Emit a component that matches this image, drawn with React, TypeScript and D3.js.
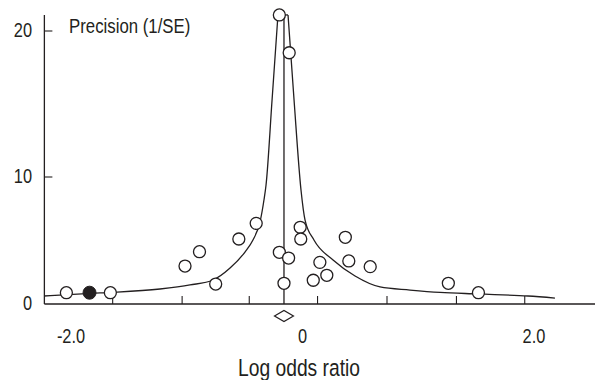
import React, { useRef, useEffect } from "react";
import { select, scaleLinear, line, curveMonotoneX } from "d3";

// studies (log odds ratio, precision 1/SE)
const studyLor = [
  -2.04, -1.66, -1.015, -0.89, -0.75, -0.55, -0.4, -0.2, -0.115, -0.2, -0.12,
  -0.16, -0.02, -0.015, 0.093, 0.15, 0.21, 0.37, 0.4, 0.585, 1.26, 1.52,
];
const studyPrec = [
  0.89, 0.89, 2.99, 4.12, 1.57, 5.12, 6.35, 21.1, 18.51, 4.07, 3.62, 1.63, 6.04,
  5.12, 1.87, 3.28, 2.26, 5.25, 3.39, 2.94, 1.63, 0.89,
];

// the highlighted (filled) study
const filledLor = [-1.84];
const filledPrec = [0.89];

// pooled estimate and its interval
const pooled = -0.16;
const pooledLow = -0.242;
const pooledHigh = -0.078;

// funnel limits
const leftLor = [
  -2.233, -1.749, -1.231, -0.972, -0.773, -0.626, -0.497, -0.428, -0.367,
  -0.333, -0.315, -0.263, -0.212,
];
const leftPrec = [
  0.63, 0.87, 1.18, 1.5, 1.89, 2.83, 4.09, 5.04, 6.46, 8.19, 9.37, 15.27, 21.1,
];
const rightLor = [
  -0.125, -0.073, -0.013, 0.022, 0.099, 0.264, 0.454, 0.67, 0.929, 1.188,
  1.516, 1.948, 2.181,
];
const rightPrec = [
  21.1, 15.27, 8.98, 6.61, 5.04, 3.46, 2.2, 1.34, 1.1, 0.91, 0.79, 0.63, 0.47,
];

// axes
const xTickMarks = [-1.64, -1.04, -0.46, 0.13, 0.73, 1.33, 1.92];
const xTickLabels = [-2, 0, 2];
const xTickText = ["-2.0", "0", "2.0"];
const yTicks = [0, 10, 20];
const yTickMarks = [10, 20];
const xExtent = [-2.23, 2.53];
const yTop = 21.1;

// no narrow font installed: squeeze Liberation Sans like Arial Narrow
const font = "'Liberation Sans', Arial, sans-serif";
const squeeze = 0.82;
const ink = "#231f20";

export default function App() {
  const svgRef = useRef<SVGSVGElement>(null);

  useEffect(() => {
    const svg = select(svgRef.current);
    svg.selectAll("*").remove();

    const x = scaleLinear().domain([-2, 2]).range([71, 534]);
    // the printed axis is not evenly spaced, so use a two piece scale
    const y = scaleLinear().domain([0, 10, 20]).range([304, 177, 31]);

    const g = svg.append("g");

    const label = (tx, ty, txt, size, anchor) =>
      g
        .append("text")
        .attr("transform", `translate(${tx},${ty}) scale(${squeeze},1)`)
        .attr("text-anchor", anchor)
        .attr("font-family", font)
        .attr("font-size", size)
        .attr("fill", ink)
        .text(txt);

    // axis lines
    g.append("line")
      .attr("x1", x(xExtent[0]))
      .attr("x2", x(xExtent[1]))
      .attr("y1", y(0))
      .attr("y2", y(0))
      .attr("stroke", ink)
      .attr("stroke-width", 1.3);
    g.append("line")
      .attr("x1", x(xExtent[0]))
      .attr("x2", x(xExtent[0]))
      .attr("y1", y(0))
      .attr("y2", y(yTop))
      .attr("stroke", ink)
      .attr("stroke-width", 1.3);

    // x tick marks (point up)
    g.selectAll(".xtick")
      .data(xTickMarks)
      .join("line")
      .attr("class", "xtick")
      .attr("x1", (d) => x(d))
      .attr("x2", (d) => x(d))
      .attr("y1", y(0))
      .attr("y2", y(0) - 8)
      .attr("stroke", ink)
      .attr("stroke-width", 1.1);

    xTickLabels.forEach((v, i) => label(x(v), 343, xTickText[i], 20, "middle"));

    // y ticks (point right)
    g.selectAll(".ytick")
      .data(yTickMarks)
      .join("line")
      .attr("class", "ytick")
      .attr("x1", x(xExtent[0]))
      .attr("x2", x(xExtent[0]) + 8)
      .attr("y1", (d) => y(d))
      .attr("y2", (d) => y(d))
      .attr("stroke", ink)
      .attr("stroke-width", 1.1);

    yTicks.forEach((v) => label(32, y(v) + 6, String(v), 20, "end"));

    label(69, 33, "Precision (1/SE)", 20.5, "start");
    label(299, 376, "Log odds ratio", 23.5, "middle");

    // funnel
    const funnel = line<number[]>()
      .x((d) => x(d[0]))
      .y((d) => y(d[1]))
      .curve(curveMonotoneX);
    const left = leftLor.map((v, i) => [v, leftPrec[i]]);
    const right = rightLor.map((v, i) => [v, rightPrec[i]]);
    [left, right].forEach((pts) => {
      g.append("path")
        .attr("d", funnel(pts))
        .attr("fill", "none")
        .attr("stroke", ink)
        .attr("stroke-width", 1.3);
    });
    g.append("line")
      .attr("x1", x(leftLor[leftLor.length - 1]))
      .attr("x2", x(rightLor[0]))
      .attr("y1", y(yTop))
      .attr("y2", y(yTop))
      .attr("stroke", ink)
      .attr("stroke-width", 1.3);

    // pooled estimate
    g.append("line")
      .attr("x1", x(pooled))
      .attr("x2", x(pooled))
      .attr("y1", y(0))
      .attr("y2", y(yTop))
      .attr("stroke", ink)
      .attr("stroke-width", 1.3);

    const dy = y(0) + 12;
    g.append("path")
      .attr(
        "d",
        `M${x(pooledLow)},${dy}L${x(pooled)},${dy - 5.5}L${x(pooledHigh)},${dy}L${x(pooled)},${dy + 5.5}Z`
      )
      .attr("fill", "white")
      .attr("stroke", ink)
      .attr("stroke-width", 1.2);

    // studies
    g.selectAll(".study")
      .data(studyLor)
      .join("circle")
      .attr("class", "study")
      .attr("cx", (d) => x(d))
      .attr("cy", (d, i) => y(studyPrec[i]))
      .attr("r", 6)
      .attr("fill", "white")
      .attr("stroke", ink)
      .attr("stroke-width", 1.3);

    g.selectAll(".filled")
      .data(filledLor)
      .join("circle")
      .attr("class", "filled")
      .attr("cx", (d) => x(d))
      .attr("cy", (d, i) => y(filledPrec[i]))
      .attr("r", 6.5)
      .attr("fill", ink)
      .attr("stroke", ink);
  }, []);

  return (
    <svg
      ref={svgRef}
      width={595}
      height={380}
      style={{ position: "absolute", left: 0, top: 0, background: "white" }}
    />
  );
}
